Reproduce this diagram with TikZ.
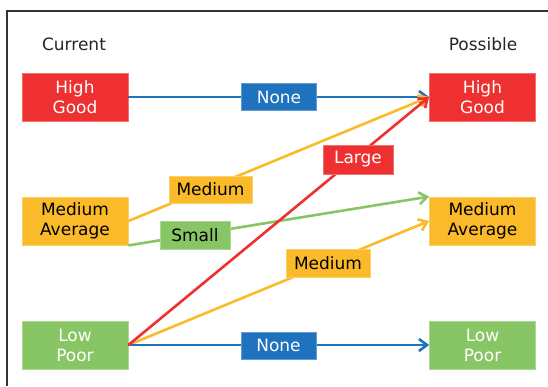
\documentclass[tikz,border=0pt]{standalone}
\usepackage{fontspec}
\setmainfont{DejaVu Sans}
\usetikzlibrary{arrows.meta}
\definecolor{cred}{HTML}{EE3030}
\definecolor{cyel}{HTML}{FBBA2A}
\definecolor{cgrn}{HTML}{88C665}
\definecolor{cblu}{HTML}{1F72BD}
\definecolor{frame}{HTML}{333333}
\tikzset{
  box/.style={minimum width=106pt,minimum height=48pt,inner sep=0pt,align=center,
    font=\fontsize{17}{20}\selectfont,line width=0.8pt},
  lbl/.style={minimum height=27pt,inner sep=0pt,font=\fontsize{17}{20}\selectfont,line width=0.8pt},
  redbox/.style={fill=cred,draw=cred!70!white,text=white},
  yelbox/.style={fill=cyel,draw=cyel!70!white,text=black},
  grnbox/.style={fill=cgrn,draw=cgrn!70!white,text=white},
  blubox/.style={fill=cblu,draw=cblu!70!white,text=white},
  conn/.style={line width=2.6pt,-{Straight Barb[length=8pt,width=12pt]}},
  head/.style={font=\fontsize{17}{20}\selectfont,text=black!85,inner sep=0pt}
}
\begin{document}
\begin{tikzpicture}[x=1pt,y=-1pt]
\useasboundingbox[fill=white] (0,0) rectangle (548,386);
\draw[frame,line width=2pt] (7,386) -- (7,11) -- (548,11);
\node[head] (cur) at (74,44) {Current};
\node[head] (pos) at (483,44) {Possible};
\node[box,redbox] (lh) at (75,97) {High\\Good};
\node[box,yelbox] (lm) at (75,221) {Medium\\Average};
\node[box,grnbox] (ll) at (75,345) {Low\\Poor};
\node[box,redbox] (rh) at (482.5,97) {High\\Good};
\node[box,yelbox] (rm) at (482.5,221) {Medium\\Average};
\node[box,grnbox] (rl) at (482.5,345) {Low\\Poor};
\draw[conn,cblu] (lh.east) -- (rh.west);
\draw[conn,cyel] (lm.east) -- (rh.west);
\draw[conn,cgrn] (lm.south east) -- (rm.north west);
\draw[conn,cyel] (ll.east) -- (rm.west);
\draw[conn,cblu] (ll.east) -- (rl.west);
\draw[conn,cred] (ll.east) -- (rh.west);
\node[lbl,blubox,minimum width=75pt] (n1) at (279,97) {None};
\node[lbl,yelbox,minimum width=83pt] (n2) at (210.5,189.5) {Medium};
\node[lbl,grnbox,text=black,minimum width=70pt,minimum height=28pt] (n3) at (195,235) {Small};
\node[lbl,redbox,minimum width=70pt,minimum height=29pt] (n4) at (358,159.5) {Large};
\node[lbl,yelbox,minimum width=84pt,minimum height=28pt] (n5) at (328,263) {Medium};
\node[lbl,blubox,minimum width=75pt] (n6) at (278.5,345.5) {None};
\end{tikzpicture}
\end{document}
